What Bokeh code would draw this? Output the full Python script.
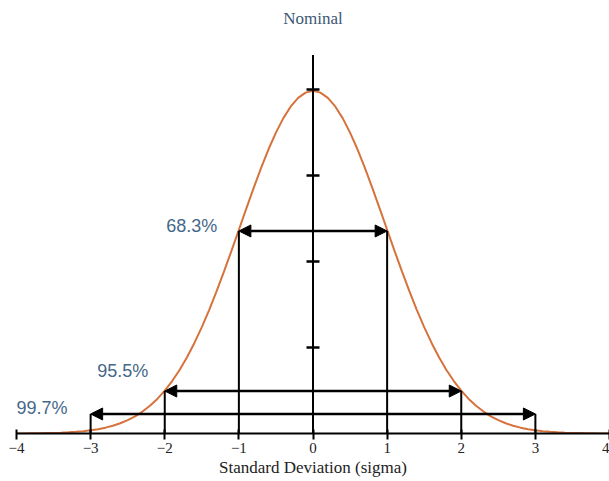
from bokeh.plotting import figure
from bokeh.models import Range1d, LinearAxis, FixedTicker, Arrow, NormalHead, Label
from bokeh.embed import file_html
from bokeh.resources import INLINE
import numpy as np

# ---- data ----
sigma_ticks = [-4, -3, -2, -1, 0, 1, 2, 3, 4]
sigma_labels = ["\u22124", "\u22123", "\u22122", "\u22121", "0", "1", "2", "3", "4"]

curve_x = np.round(np.linspace(-4, 4, 81), 1)
curve_y = [
    .0001, .0001, .0002, .0003, .0005, .0007, .0010, .0014, .0019, .0027,
    .0037, .0050, .0068, .0090, .0119, .0155, .0199, .0255, .0322, .0402,
    .0498, .0610, .0739, .0887, .1053, .1237, .1438, .1655, .1885, .2124,
    .2369, .2615, .2857, .3089, .3305, .3499, .3667, .3803, .3903, .3964,
    .3985,
    .3964, .3903, .3803, .3667, .3499, .3305, .3089, .2857, .2615, .2369,
    .2124, .1885, .1655, .1438, .1237, .1053, .0887, .0739, .0610, .0498,
    .0402, .0322, .0255, .0199, .0155, .0119, .0090, .0068, .0050, .0037,
    .0027, .0019, .0014, .0010, .0007, .0005, .0003, .0002, .0001, .0001,
]

coverage_labels = ["68.3%", "95.5%", "99.7%"]
coverage_sigma = [1, 2, 3]
arrow_levels = [0.2355, 0.0494, 0.0227]

nominal_ticks = [0.1, 0.2, 0.3, 0.4]
nominal_top = 0.44

# ---- figure ----
p = figure(width=609, height=481, x_range=Range1d(-4, 4), y_range=Range1d(0, 0.4942),
           output_backend="svg", toolbar_location=None,
           x_axis_location=None, y_axis_location=None,
           min_border_left=16, min_border_right=0, min_border_top=8, min_border_bottom=48)
p.outline_line_color = None
p.xgrid.visible = False
p.ygrid.visible = False
p.background_fill_color = "white"
p.border_fill_color = "white"

# normal curve
p.line(curve_x, curve_y, line_color="#d6723c", line_width=2)

# nominal center line with ticks
p.segment(x0=[0], y0=[0], x1=[0], y1=[nominal_top], line_color="black", line_width=2)
p.scatter(x=[0] * len(nominal_ticks), y=nominal_ticks, marker="dash", size=13,
          line_color="black", line_width=2.5)

# sigma vertical lines and arrows
xs = [-s for s in coverage_sigma] + coverage_sigma
lv = arrow_levels + arrow_levels
p.segment(x0=xs, y0=[0] * len(xs), x1=xs, y1=lv, line_color="black", line_width=2)

label_pos = [(-1.98, 0.2413), (-2.91, 0.0727), (-4.0, 0.0300)]
for s, lvl, txt, (lx, ly) in zip(coverage_sigma, arrow_levels, coverage_labels, label_pos):
    p.add_layout(Arrow(x_start=-s, y_start=lvl, x_end=s, y_end=lvl,
                       start=NormalHead(size=12, fill_color="black", line_color="black"),
                       end=NormalHead(size=12, fill_color="black", line_color="black"),
                       line_color="black", line_width=2.5))
    p.add_layout(Label(x=lx, y=ly, text=txt, text_align="left", text_baseline="middle",
                       text_font="Liberation Sans", text_font_size="18px",
                       text_color="#45688a"))

p.add_layout(Label(x=0, y=0.483, text="Nominal", text_align="center", text_baseline="middle",
                   text_font="Liberation Serif", text_font_size="17px", text_color="#3b5873"))

# x axis
xaxis = LinearAxis(ticker=FixedTicker(ticks=sigma_ticks),
                   major_label_overrides={t: l for t, l in zip(sigma_ticks, sigma_labels)},
                   axis_label="Standard Deviation (sigma)")
xaxis.axis_line_color = "black"
xaxis.axis_line_width = 2
xaxis.major_tick_line_color = "black"
xaxis.major_tick_line_width = 2
xaxis.major_tick_in = 4
xaxis.major_tick_out = 6
xaxis.minor_tick_line_color = None
xaxis.major_label_standoff = 3
xaxis.major_label_text_font = "Liberation Serif"
xaxis.major_label_text_font_size = "15px"
xaxis.major_label_text_color = "#222222"
xaxis.axis_label_text_font = "Liberation Serif"
xaxis.axis_label_text_font_style = "normal"
xaxis.axis_label_text_font_size = "17px"
xaxis.axis_label_text_color = "#222222"
xaxis.axis_label_standoff = 2
p.add_layout(xaxis, "below")

open("out.html", "w").write(file_html(p, INLINE))
